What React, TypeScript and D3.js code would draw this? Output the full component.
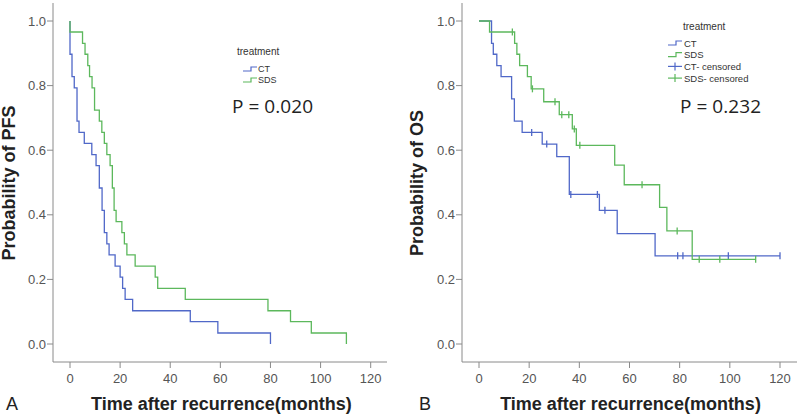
import React from "react";
import * as d3 from "d3";

// ---- Data ----
const xTicks = [0, 20, 40, 60, 80, 100, 120];
const yTicks = [0, 0.2, 0.4, 0.6, 0.8, 1.0];
const groups = ["CT", "SDS"];

// PFS (panel A)
const pfsCtTimes = [0, 0.8, 1.7, 2.8, 3.6, 5.7, 8.7, 10.4, 11.7, 12.8, 13.7, 14.7, 15.6, 18, 20, 21, 22, 25, 48, 59, 80];
const pfsCtSurv = [0.897, 0.828, 0.793, 0.69, 0.655, 0.621, 0.586, 0.552, 0.483, 0.414, 0.345, 0.31, 0.276, 0.241, 0.207, 0.172, 0.138, 0.103, 0.069, 0.034, 0];
const pfsSdsTimes = [0, 5, 6, 7.1, 7.8, 8.8, 9.8, 11.7, 12.7, 13.7, 14.7, 16, 16.9, 17.6, 18.4, 20.7, 21.7, 22.7, 26, 34, 35, 46, 79, 88, 96.3, 110.3];
const pfsSdsSurv = [0.966, 0.931, 0.897, 0.862, 0.828, 0.793, 0.724, 0.69, 0.655, 0.621, 0.586, 0.552, 0.483, 0.414, 0.379, 0.345, 0.31, 0.276, 0.241, 0.207, 0.172, 0.138, 0.103, 0.069, 0.034, 0];

// OS (panel B)
const osCtTimes = [5, 5.7, 7.1, 8.8, 13, 14.1, 17.2, 25.2, 31, 36, 48, 55.1, 70.2];
const osCtSurv = [0.931, 0.897, 0.862, 0.828, 0.759, 0.69, 0.655, 0.619, 0.58, 0.463, 0.414, 0.342, 0.273];
const osCtEnd = 120;
const osCtCensor = [21, 27, 36.6, 47.2, 50.2, 79.2, 81.3, 99.4, 120];
const osSdsTimes = [4.2, 14.2, 15.1, 16.2, 19.3, 20.8, 25.8, 32, 37.2, 38.8, 54.1, 57.9, 72, 74.9, 85];
const osSdsSurv = [0.966, 0.931, 0.897, 0.862, 0.828, 0.79, 0.75, 0.71, 0.666, 0.615, 0.554, 0.493, 0.423, 0.35, 0.262];
const osSdsEnd = 110.3;
const osSdsCensor = [13.3, 21.3, 30.3, 33, 35.8, 38, 40.2, 65, 79, 87.8, 96, 110.3];

const BLUE = "#5068c8";
const GREEN = "#5cb85c";
const AXIS = "#8a8a8a";
const FONT = "Liberation Sans, Arial, sans-serif";

type Curve = { times: number[]; surv: number[]; end?: number; censor?: number[]; color: string };

function survAt(c: Curve, t: number) {
  let s = 1;
  for (let i = 0; i < c.times.length; i++) if (c.times[i] <= t) s = c.surv[i];
  return s;
}

function Panel(props: {
  x0: number; // pixel of x=0
  x120: number;
  axisX: number;
  axisRight: number;
  curves: Curve[];
  yTitle: string;
  yTitleX: number;
  letter: string;
  letterX: number;
  pText: string;
  pX: number;
  legend: React.ReactNode;
}) {
  const x = d3.scaleLinear().domain([0, 120]).range([props.x0, props.x120]);
  const y = d3.scaleLinear().domain([0, 1]).range([344, 21]);
  const line = d3
    .line<[number, number]>()
    .x((d) => x(d[0]))
    .y((d) => y(d[1]))
    .curve(d3.curveStepAfter);
  const axisBottom = 362;
  const titleCx = (props.x0 + props.x120) / 2 + 1;
  return (
    <g>
      {/* axes */}
      <line x1={props.axisX} x2={props.axisX} y1={3} y2={axisBottom} stroke={AXIS} strokeWidth={1} />
      <line x1={props.axisX} x2={props.axisRight} y1={axisBottom} y2={axisBottom} stroke={AXIS} strokeWidth={1} />
      {yTicks.map((t) => (
        <g key={"y" + t}>
          <line x1={props.axisX - 6} x2={props.axisX} y1={y(t)} y2={y(t)} stroke={AXIS} />
          <text x={props.axisX - 7} y={y(t)} dy="0.35em" textAnchor="end" fontSize={13} fill="#555" fontFamily={FONT}>
            {d3.format(".1f")(t)}
          </text>
        </g>
      ))}
      {xTicks.map((t) => (
        <g key={"x" + t}>
          <line x1={x(t)} x2={x(t)} y1={axisBottom} y2={axisBottom + 6} stroke={AXIS} />
          <text x={x(t)} y={383} textAnchor="middle" fontSize={13} fill="#555" fontFamily={FONT}>
            {t}
          </text>
        </g>
      ))}
      {/* curves */}
      {props.curves.map((c, i) => {
        const pts: [number, number][] = [[0, 1]];
        c.times.forEach((t, j) => pts.push([t, c.surv[j]]));
        if (c.end !== undefined) pts.push([c.end, c.surv[c.surv.length - 1]]);
        return (
          <g key={i}>
            <path d={line(pts) || ""} fill="none" stroke={c.color} strokeWidth={1.3} />
            {(c.censor || []).map((t, k) => (
              <line key={k} x1={x(t)} x2={x(t)} y1={y(survAt(c, t)) - 3.5} y2={y(survAt(c, t)) + 3.5} stroke={c.color} strokeWidth={1.3} />
            ))}
          </g>
        );
      })}
      {/* titles */}
      <text
        transform={`translate(${props.yTitleX},183) rotate(-90)`}
        textAnchor="middle"
        fontSize={18}
        fontWeight="bold"
        fill="#222"
        fontFamily={FONT}
      >
        {props.yTitle}
      </text>
      <text x={titleCx} y={410} textAnchor="middle" fontSize={18} fontWeight="bold" fill="#222" fontFamily={FONT}>
        Time after recurrence(months)
      </text>
      <text x={props.letterX} y={410} fontSize={18} fill="#222" fontFamily={FONT}>
        {props.letter}
      </text>
      <text x={props.pX} y={113} fontSize={19} fill="#222" fontFamily="Open Sans, sans-serif" textLength={81}>
        {props.pText}
      </text>
      {props.legend}
    </g>
  );
}

function StepSym({ x, y, color }: { x: number; y: number; color: string }) {
  return <path d={`M${x},${y + 2} H${x + 8} V${y - 2} H${x + 14}`} fill="none" stroke={color} strokeWidth={1.2} />;
}
function CensorSym({ x, y, color }: { x: number; y: number; color: string }) {
  return (
    <g>
      <line x1={x} x2={x + 14} y1={y} y2={y} stroke={color} strokeWidth={1.2} />
      <line x1={x + 7} x2={x + 7} y1={y - 4} y2={y + 4} stroke={color} strokeWidth={1.2} />
    </g>
  );
}

export default function App() {
  const colors = [BLUE, GREEN];
  const legendA = (
    <g fontFamily={FONT} fill="#333">
      <text x={237} y={55} fontSize={10}>treatment</text>
      {groups.map((g, i) => (
        <g key={g}>
          <StepSym x={243} y={69 + i * 11} color={colors[i]} />
          <text x={258} y={72 + i * 11} fontSize={9}>{g}</text>
        </g>
      ))}
    </g>
  );
  const legendLabels = [...groups, ...groups.map((g) => g + "- censored")];
  const legendB = (
    <g fontFamily={FONT} fill="#333">
      <text x={683} y={30} fontSize={10}>treatment</text>
      {legendLabels.map((g, i) => (
        <g key={g}>
          {i < 2 ? (
            <StepSym x={668} y={43 + i * 11.7} color={colors[i % 2]} />
          ) : (
            <CensorSym x={668} y={43 + i * 11.7} color={colors[i % 2]} />
          )}
          <text x={684} y={46.5 + i * 11.7} fontSize={9.5}>{g}</text>
        </g>
      ))}
    </g>
  );
  return (
    <svg width={800} height={417} style={{ position: "absolute", left: 0, top: 0, background: "#fff" }}>
      <rect width={800} height={417} fill="#fff" />
      <Panel
        x0={70}
        x120={370.7}
        axisX={53}
        axisRight={387}
        curves={[
          { times: pfsCtTimes, surv: pfsCtSurv, color: BLUE },
          { times: pfsSdsTimes, surv: pfsSdsSurv, color: GREEN },
        ]}
        yTitle="Probability of PFS"
        yTitleX={15}
        letter="A"
        letterX={6}
        pText="P = 0.020"
        pX={232}
        legend={legendA}
      />
      <Panel
        x0={479}
        x120={780}
        axisX={462}
        axisRight={797}
        curves={[
          { times: osCtTimes, surv: osCtSurv, end: osCtEnd, censor: osCtCensor, color: BLUE },
          { times: osSdsTimes, surv: osSdsSurv, end: osSdsEnd, censor: osSdsCensor, color: GREEN },
        ]}
        yTitle="Probability of OS"
        yTitleX={423}
        letter="B"
        letterX={419}
        pText="P = 0.232"
        pX={680}
        legend={legendB}
      />
    </svg>
  );
}
